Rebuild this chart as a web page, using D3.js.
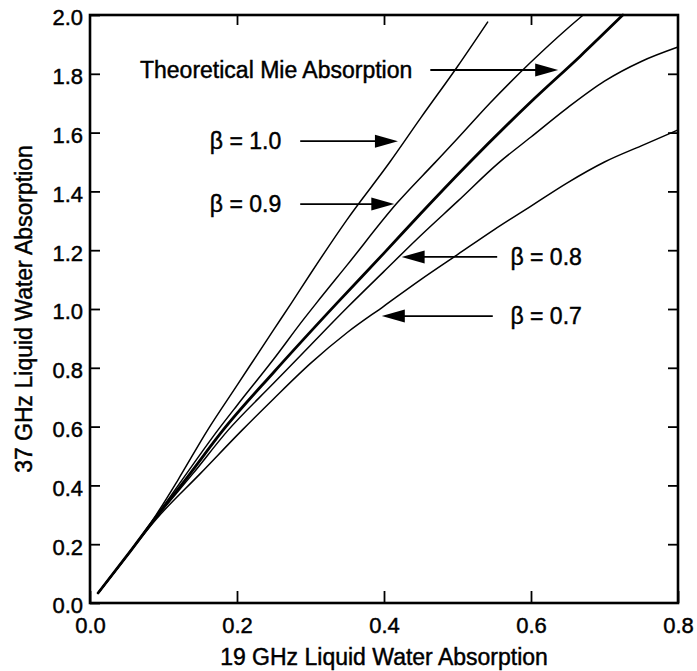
<!DOCTYPE html>
<html>
<head>
<meta charset="utf-8">
<script src="https://cdn.jsdelivr.net/npm/d3@7"></script>
<style>
html,body{margin:0;padding:0;background:#fff;}
svg{display:block;}
text{font-family:"Liberation Sans",Arial,Helvetica,sans-serif;fill:#000;stroke:#000;stroke-width:0.45px;}
</style>
</head>
<body>
<div id="chart"></div>
<script>
// ---- data ----
const xTicks = [0.0, 0.2, 0.4, 0.6, 0.8];
const yTicks = [0.0, 0.2, 0.4, 0.6, 0.8, 1.0, 1.2, 1.4, 1.6, 1.8, 2.0];
const xTitle = "19 GHz Liquid Water Absorption";
const yTitle = "37 GHz Liquid Water Absorption";

const xBeta10 = [0.011, 0.05, 0.09, 0.12, 0.16, 0.20, 0.25, 0.274, 0.30, 0.35, 0.408, 0.45, 0.50, 0.541];
const yBeta10 = [0.034, 0.16, 0.30, 0.42, 0.588, 0.74, 0.93, 1.02, 1.12, 1.305, 1.50, 1.65, 1.825, 1.976];

const xBeta09 = [0.011, 0.05, 0.09, 0.12, 0.174, 0.20, 0.25, 0.29, 0.308, 0.35, 0.418, 0.469, 0.50, 0.544, 0.60, 0.65, 0.671];
const yBeta09 = [0.034, 0.16, 0.295, 0.40, 0.588, 0.672, 0.83, 0.963, 1.02, 1.15, 1.361, 1.497, 1.58, 1.70, 1.84, 1.955, 2.0];

const xMie = [0.011, 0.05, 0.09, 0.13, 0.181, 0.25, 0.336, 0.40, 0.45, 0.513, 0.60, 0.667, 0.725];
const yMie = [0.034, 0.16, 0.293, 0.42, 0.588, 0.785, 1.02, 1.19, 1.325, 1.49, 1.705, 1.86, 2.0];

const xBeta08 = [0.011, 0.05, 0.09, 0.14, 0.188, 0.25, 0.30, 0.35, 0.40, 0.45, 0.50, 0.556, 0.60, 0.65, 0.70, 0.75, 0.80];
const yBeta08 = [0.034, 0.16, 0.29, 0.44, 0.588, 0.748, 0.877, 1.005, 1.128, 1.25, 1.366, 1.497, 1.585, 1.685, 1.775, 1.842, 1.891];

const xBeta07 = [0.011, 0.05, 0.09, 0.15, 0.207, 0.25, 0.30, 0.35, 0.40, 0.45, 0.50, 0.55, 0.60, 0.65, 0.70, 0.75, 0.80];
const yBeta07 = [0.034, 0.16, 0.285, 0.44, 0.588, 0.695, 0.815, 0.92, 1.01, 1.10, 1.185, 1.27, 1.35, 1.43, 1.50, 1.555, 1.609];

// annotation labels (data coordinates): text anchor x, y, arrow tail x, arrow tip x
const annLabels = ["Theoretical Mie Absorption", "β = 1.0", "β = 0.9", "β = 0.8", "β = 0.7"];
const annTextX  = [0.068, 0.163, 0.163, 0.572, 0.572];
const annY      = [1.813, 1.571, 1.357, 1.177, 0.976];
const annTailX  = [0.463, 0.286, 0.286, 0.554, 0.548];
const annTipX   = [0.637, 0.419, 0.414, 0.424, 0.397];

// ---- layout ----
const W = 697, H = 671;
const margin = {left: 90, top: 15, right: 19, bottom: 68};

const svg = d3.select("#chart").append("svg").attr("width", W).attr("height", H);

const x = d3.scaleLinear().domain([0, 0.8]).range([margin.left, W - margin.right]);
const y = d3.scaleLinear().domain([0, 2.0]).range([H - margin.bottom, margin.top]);

const fmt = d3.format(".1f");

// axes (ticks inside)
const gB = svg.append("g").attr("transform", `translate(0,${y(0)})`)
  .call(d3.axisBottom(x).tickValues(xTicks).tickFormat(fmt).tickSizeInner(-12).tickSizeOuter(0).tickPadding(14));
const gL = svg.append("g").attr("transform", `translate(${x(0)},0)`)
  .call(d3.axisLeft(y).tickValues(yTicks).tickFormat(fmt).tickSizeInner(-10).tickSizeOuter(0).tickPadding(7));
const gT = svg.append("g").attr("transform", `translate(0,${y(2)})`)
  .call(d3.axisTop(x).tickValues(xTicks.slice(1, -1)).tickFormat("").tickSizeInner(-10).tickSizeOuter(0));
const gR = svg.append("g").attr("transform", `translate(${x(0.8)},0)`)
  .call(d3.axisRight(y).tickValues(yTicks.slice(1, -1)).tickFormat("").tickSizeInner(-10).tickSizeOuter(0));

[gB, gL, gT, gR].forEach(g => {
  g.select(".domain").remove();
  g.selectAll(".tick line").attr("stroke", "#000").attr("stroke-width", 1.8);
  g.selectAll(".tick text").attr("font-size", 22).attr("font-family", '"Liberation Sans",Arial,sans-serif')
    .attr("fill", "#000").attr("stroke", "#000").attr("stroke-width", 0.45);
});
gL.selectAll(".tick text").attr("dy", "0.45em");

// frame
svg.append("rect")
  .attr("x", x(0)).attr("y", y(2))
  .attr("width", x(0.8) - x(0)).attr("height", y(0) - y(2))
  .attr("fill", "none").attr("stroke", "#000").attr("stroke-width", 2.6);

// axis titles
svg.append("text")
  .attr("x", (x(0) + x(0.8)) / 2).attr("y", 665)
  .attr("text-anchor", "middle").attr("font-size", 23)
  .text(xTitle);
svg.append("text")
  .attr("transform", `translate(32,${(y(0) + y(2)) / 2}) rotate(-90)`)
  .attr("text-anchor", "middle").attr("font-size", 23)
  .text(yTitle);

// curves
const series = [
  {xs: xBeta10, ys: yBeta10, w: 1.5},
  {xs: xBeta09, ys: yBeta09, w: 1.5},
  {xs: xMie,    ys: yMie,    w: 2.8},
  {xs: xBeta08, ys: yBeta08, w: 1.5},
  {xs: xBeta07, ys: yBeta07, w: 1.5}
];
const line = d3.line().x(d => x(d[0])).y(d => y(d[1])).curve(d3.curveMonotoneX);
svg.append("g").selectAll("path").data(series).join("path")
  .attr("d", s => line(s.xs.map((v, i) => [v, s.ys[i]])))
  .attr("fill", "none").attr("stroke", "#000")
  .attr("stroke-width", s => s.w).attr("stroke-linejoin", "round").attr("stroke-linecap", "round");

// annotations
const ann = svg.append("g");
annLabels.forEach((lab, i) => {
  const yy = y(annY[i]);
  ann.append("text").attr("x", x(annTextX[i])).attr("y", yy).attr("dy", "0.36em")
    .attr("font-size", 23).text(lab);
  const x0 = x(annTailX[i]), x1 = x(annTipX[i]);
  const dir = Math.sign(x1 - x0);
  const headLen = 23, headHalf = 6.5;
  ann.append("line").attr("x1", x0).attr("y1", yy).attr("x2", x1 - dir * headLen * 0.8).attr("y2", yy)
    .attr("stroke", "#000").attr("stroke-width", 1.8);
  ann.append("path")
    .attr("d", `M${x1},${yy} L${x1 - dir * headLen},${yy - headHalf} L${x1 - dir * headLen},${yy + headHalf} Z`)
    .attr("fill", "#000");
});
</script>
</body>
</html>
